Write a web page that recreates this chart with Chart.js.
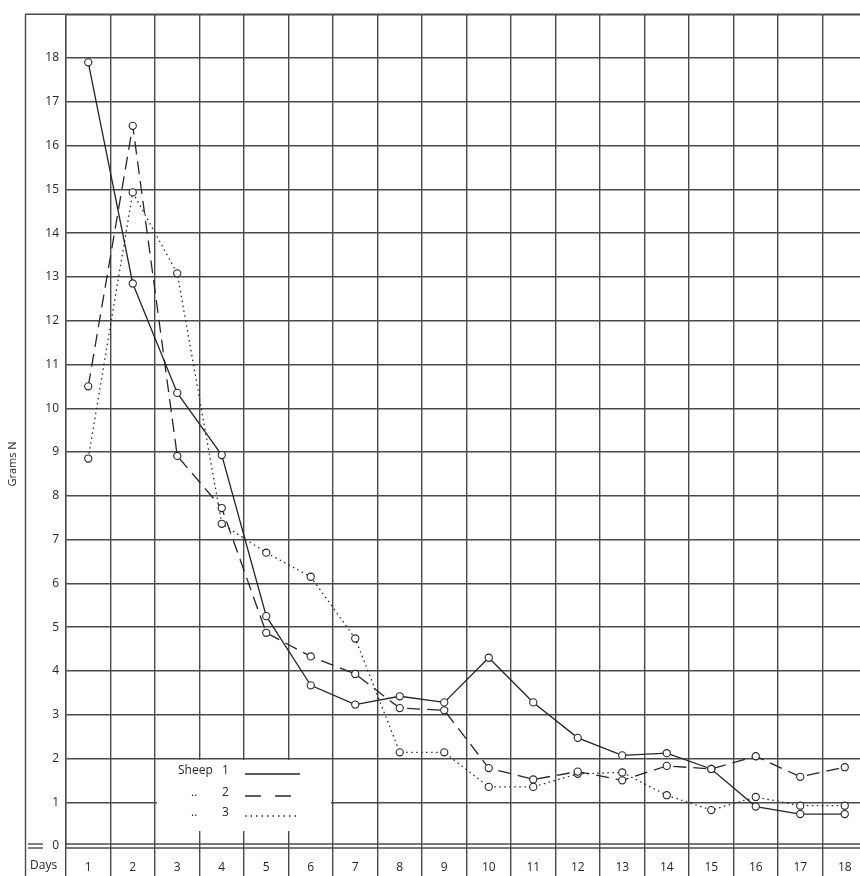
<!DOCTYPE html>
<html><head><meta charset="utf-8">
<script src="https://cdn.jsdelivr.net/npm/chart.js@4"></script>
<style>html,body{margin:0;padding:0;overflow:hidden;background:#fff;width:860px;height:876px}
canvas{position:absolute;left:0;top:0}</style>
</head><body><canvas id="c" width="880" height="876" style="width:880px;height:876px"></canvas>
<script>
const days = ['1','2','3','4','5','6','7','8','9','10','11','12','13','14','15','16','17','18'];
const sheep1 = [17.9,12.85,10.35,8.93,5.25,3.67,3.23,3.42,3.28,4.3,3.28,2.47,2.07,2.12,1.76,0.9,0.73,0.73];
const sheep2 = [10.5,16.45,8.91,7.72,4.87,4.33,3.93,3.15,3.1,1.78,1.52,1.7,1.5,1.83,1.76,2.05,1.58,1.8];
const sheep3 = [8.85,14.93,13.08,7.36,6.7,6.15,4.74,2.14,2.14,1.35,1.35,1.65,1.68,1.16,0.82,1.12,0.92,0.92];
const yTicks = [0,1,2,3,4,5,6,7,8,9,10,11,12,13,14,15,16,17,18];
const seriesNames = ['Sheep 1','2','3'];
const yTitle = 'Grams N';
const xTitle = 'Days';

const GRID = '#4a4a4a';
const INK = '#262626';
const FONT = '"Open Sans", "DejaVu Sans", sans-serif';

const framePlugin = {
  id: 'frame',
  beforeDatasetsDraw(chart) {
    const ctx = chart.ctx, a = chart.chartArea;
    const y0 = chart.scales.y.getPixelForValue(0);
    const L = (x1,y1,x2,y2) => { ctx.beginPath(); ctx.moveTo(x1,y1); ctx.lineTo(x2,y2); ctx.stroke(); };
    ctx.save();
    // legend backdrop
    ctx.fillStyle = '#fff';
    ctx.fillRect(157, 760, 174, 71);
    ctx.strokeStyle = GRID; ctx.lineWidth = 1.4;
    L(25.5, a.top, 25.5, 876);
    L(25, a.top, 880, a.top);
    L(a.left, y0 - 2, 880, y0 - 2);
    L(a.left, y0 + 2, 880, y0 + 2);
    L(28, y0 - 2, 43, y0 - 2);
    L(28, y0 + 2, 43, y0 + 2);
    // titles
    ctx.fillStyle = INK;
    ctx.font = '11px ' + FONT;
    ctx.textAlign = 'center'; ctx.textBaseline = 'middle';
    ctx.save();
    ctx.translate(13, 464); ctx.rotate(-Math.PI/2);
    ctx.fillText(yTitle, 0, 0);
    ctx.restore();
    ctx.font = '12px ' + FONT;
    ctx.textAlign = 'left';
    ctx.fillText(xTitle, 30, 866);
    // legend
    ctx.font = '12px ' + FONT;
    ctx.textAlign = 'left'; ctx.textBaseline = 'middle';
    const rows = [771, 793, 813];
    const dashes = [[], [16, 14], [1.5, 4]];
    ctx.fillText('Sheep', 178, rows[0]);
    ctx.fillText(seriesNames[0].split(' ')[1], 222, rows[0]);
    ctx.fillText('..', 191, rows[1]); ctx.fillText(seriesNames[1], 222, rows[1]);
    ctx.fillText('..', 191, rows[2]); ctx.fillText(seriesNames[2], 222, rows[2]);
    ctx.strokeStyle = INK; ctx.lineWidth = 1.3;
    rows.forEach((ry, i) => {
      ctx.setLineDash(dashes[i]);
      L(245, ry + 3, 300, ry + 3);
    });
    ctx.restore();
  }
};

const common = {
  borderColor: INK, borderWidth: 1.3, tension: 0,
  pointRadius: 3.6, pointHoverRadius: 3.6,
  pointBackgroundColor: '#fff', pointBorderColor: INK, pointBorderWidth: 1.1,
  fill: false
};

new Chart(document.getElementById('c'), {
  type: 'line',
  data: {
    labels: days,
    datasets: [
      Object.assign({ label: seriesNames[0], data: sheep1 }, common),
      Object.assign({ label: seriesNames[1], data: sheep2, borderDash: [13, 7] }, common),
      Object.assign({ label: seriesNames[2], data: sheep3, borderDash: [1.5, 3.5] }, common)
    ]
  },
  options: {
    responsive: false,
    animation: false,
    devicePixelRatio: 1,
    layout: { padding: { top: 12, right: 13, left: 0, bottom: 0 } },
    plugins: { legend: { display: false }, tooltip: { enabled: false } },
    scales: {
      x: {
        type: 'category',
        offset: true,
        grid: { offset: true, color: GRID, lineWidth: 1.4, drawTicks: true, tickLength: 30 },
        border: { display: false },
        ticks: { color: INK, font: { family: FONT, size: 12 }, padding: -16, maxRotation: 0, autoSkip: false },
        afterFit(s) { s.height = 30; }
      },
      y: {
        min: 0, max: 19,
        afterBuildTicks(s) { s.ticks = yTicks.concat([19]).map(v => ({ value: v })); },
        ticks: {
          stepSize: 1, color: INK, font: { family: FONT, size: 12 }, padding: 7,
          callback: v => (yTicks.includes(v) ? String(v) : '')
        },
        grid: {
          drawTicks: false, lineWidth: 1.4,
          color: c => (c.tick && c.tick.value === 0 ? 'rgba(0,0,0,0)' : GRID)
        },
        border: { display: true, color: GRID, width: 1.4 },
        afterFit(s) { s.width = 66; }
      }
    }
  },
  plugins: [framePlugin]
});
</script>
</body></html>
